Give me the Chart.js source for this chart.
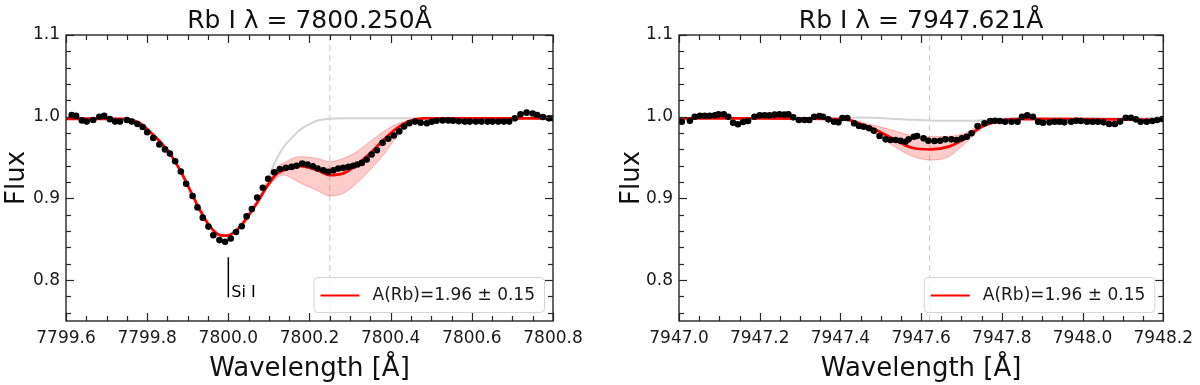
<!DOCTYPE html>
<html>
<head>
<meta charset="utf-8">
<script src="https://cdn.jsdelivr.net/npm/chart.js@4.4.1/dist/chart.umd.min.js"></script>
<style>
  html, body { margin: 0; padding: 0; background: #fff; }
  #wrap { position: relative; width: 1200px; height: 385px; }
  .panel { position: absolute; top: 0; width: 600px; height: 385px; }
</style>
</head>
<body>
<div id="wrap">
  <div class="panel" style="left:0"><canvas id="c1" width="600" height="385"></canvas></div>
  <div class="panel" style="left:600px"><canvas id="c2" width="600" height="385"></canvas></div>
</div>
<script>
// ---------------- DATA ----------------
const yTicks = [0.8, 0.9, 1.0, 1.1];
const yRange = [0.75, 1.1];

// Left panel: Rb I 7800.250
const leftTitle = "Rb I λ = 7800.250Å";
const leftLine = 7800.250;
const leftXTicks = [7799.6, 7799.8, 7800.0, 7800.2, 7800.4, 7800.6, 7800.8];
const leftObsWave = [7799.614,7799.625,7799.639,7799.651,7799.667,7799.682,7799.694,7799.708,7799.721,7799.733,
  7799.750,7799.762,7799.776,7799.789,7799.800,7799.815,7799.830,7799.844,7799.856,7799.869,
  7799.883,7799.896,7799.912,7799.924,7799.937,7799.951,7799.963,7799.978,7799.992,7800.006,
  7800.019,7800.033,7800.045,7800.058,7800.071,7800.085,7800.098,7800.113,7800.127,7800.142,
  7800.156,7800.168,7800.182,7800.195,7800.208,7800.220,7800.234,7800.246,7800.259,7800.271,
  7800.283,7800.296,7800.308,7800.318,7800.329,7800.341,7800.353,7800.366,7800.380,7800.394,
  7800.408,7800.421,7800.433,7800.446,7800.460,7800.474,7800.489,7800.501,7800.513,7800.528,
  7800.542,7800.554,7800.568,7800.583,7800.595,7800.610,7800.624,7800.639,7800.651,7800.665,
  7800.679,7800.692,7800.706,7800.720,7800.735,7800.750,7800.761,7800.775,7800.790,7800.800];
const leftObsFlux = [1.002,1.001,0.9955,0.994,0.996,1.000,1.001,0.997,0.994,0.994,
  0.996,0.994,0.991,0.9875,0.981,0.974,0.966,0.960,0.955,0.9455,
  0.933,0.918,0.903,0.889,0.8765,0.8655,0.855,0.849,0.847,0.851,
  0.859,0.866,0.878,0.887,0.901,0.913,0.924,0.932,0.936,0.9374,
  0.9386,0.940,0.9427,0.9415,0.9394,0.9366,0.9345,0.9326,0.9345,0.9366,
  0.9374,0.9386,0.940,0.9415,0.9435,0.9476,0.9537,0.959,0.968,0.973,
  0.977,0.982,0.988,0.992,0.994,0.9927,0.992,0.9939,0.995,0.9955,
  0.9955,0.995,0.9945,0.994,0.994,0.994,0.994,0.994,0.994,0.994,
  0.994,0.994,0.998,1.003,1.005,1.004,1.002,0.9996,0.998,0.998];
const leftFitWave = [7799.600,7799.700,7799.750,7799.765,7799.782,7799.807,7799.832,7799.856,7799.881,7799.906,
  7799.930,7799.955,7799.979,7799.996,7800.021,7800.045,7800.070,7800.095,7800.119,7800.152,
  7800.177,7800.218,7800.250,7800.283,7800.316,7800.349,7800.382,7800.415,7800.448,7800.480,
  7800.600,7800.700,7800.800];
const leftFitFlux = [0.9975,0.9975,0.997,0.9955,0.992,0.9817,0.9694,0.955,0.9348,0.910,
  0.8858,0.8654,0.855,0.8544,0.8613,0.8756,0.894,0.9143,0.930,0.937,
  0.9395,0.9348,0.9286,0.9307,0.941,0.955,0.9715,0.9858,0.995,0.998,
  0.998,0.998,0.998];
const leftBandWave  = [7800.070,7800.095,7800.119,7800.135,7800.177,7800.218,7800.250,7800.283,7800.316,7800.349,7800.382,7800.415,7800.448,7800.480];
const leftBandUpper = [0.894,0.917,0.937,0.943,0.951,0.949,0.945,0.949,0.957,0.9694,0.9817,0.991,0.996,0.998];
const leftBandLower = [0.894,0.912,0.925,0.9286,0.919,0.910,0.903,0.9063,0.9185,0.9348,0.953,0.9755,0.990,0.998];
const leftNoRbWave = [7799.600,7799.700,7799.750,7799.765,7799.782,7799.807,7799.832,7799.856,7799.881,7799.906,
  7799.930,7799.955,7799.979,7799.996,7800.021,7800.045,7800.070,7800.095,7800.111,7800.135,
  7800.160,7800.177,7800.201,7800.218,7800.250,7800.300,7800.800];
const leftNoRbFlux = [0.9975,0.9975,0.997,0.9955,0.992,0.9817,0.9694,0.955,0.9348,0.910,
  0.8858,0.8654,0.855,0.8544,0.8613,0.8756,0.894,0.920,0.940,0.962,
  0.976,0.984,0.991,0.995,0.9975,0.998,0.998];
const leftMarkWave = 7800.0;
const leftMarkFlux = [0.828, 0.779];
const leftMarkText = "Si I";

// Right panel: Rb I 7947.621
const rightTitle = "Rb I λ = 7947.621Å";
const rightLine = 7947.621;
const rightXTicks = [7947.0, 7947.2, 7947.4, 7947.6, 7947.8, 7948.0, 7948.2];
const rightObsWave = [7947.007,7947.027,7947.039,7947.052,7947.064,7947.076,7947.089,7947.098,7947.111,7947.122,
  7947.134,7947.146,7947.159,7947.171,7947.187,7947.200,7947.212,7947.224,7947.237,7947.249,
  7947.261,7947.271,7947.283,7947.297,7947.311,7947.323,7947.335,7947.348,7947.357,7947.370,
  7947.384,7947.395,7947.405,7947.417,7947.434,7947.446,7947.458,7947.471,7947.483,7947.497,
  7947.512,7947.524,7947.537,7947.549,7947.561,7947.569,7947.582,7947.590,
  7947.606,7947.618,7947.633,7947.647,7947.660,7947.675,7947.688,7947.701,7947.713,7947.725,
  7947.740,7947.757,7947.771,7947.783,7947.795,7947.808,7947.824,7947.839,7947.850,7947.863,
  7947.877,7947.890,7947.902,7947.918,7947.931,7947.943,7947.955,7947.972,7947.984,7947.996,
  7948.011,7948.025,7948.038,7948.052,7948.066,7948.080,7948.093,7948.107,7948.120,7948.132,
  7948.144,7948.159,7948.173,7948.185,7948.198];
const rightObsFlux = [0.9939,0.9951,1.000,1.0012,1.0012,1.0012,1.0017,1.0029,1.0029,1.000,
  0.9927,0.9907,0.9935,0.9947,1.000,1.0017,1.0017,1.0017,1.0025,1.0029,
  1.0025,1.0029,0.9992,0.996,0.996,0.996,1.000,1.0009,1.000,0.9968,
  0.9939,0.9931,0.9984,0.9984,0.9919,0.9886,0.9878,0.9858,0.9829,0.9764,
  0.9723,0.9715,0.9715,0.9706,0.9694,0.9723,0.9755,0.9764,
  0.9735,0.9706,0.9702,0.9706,0.9723,0.9723,0.9715,0.9735,0.9755,0.9797,
  0.9886,0.9919,0.9947,0.9951,0.9947,0.9939,0.9939,0.9939,1.000,1.0017,
  1.000,0.9939,0.9927,0.9931,0.9939,0.9939,0.9931,0.9939,0.9951,0.9947,
  0.9939,0.9939,0.9939,0.9931,0.9911,0.9911,0.994,0.9988,0.9988,0.9968,
  0.9939,0.9939,0.9947,0.996,0.9972];
const rightFitWave = [7947.000,7947.200,7947.400,7947.430,7947.455,7947.479,7947.528,7947.577,7947.624,7947.668,
  7947.709,7947.750,7947.791,7947.849,7948.000,7948.200];
const rightFitFlux = [0.998,0.998,0.997,0.995,0.990,0.9858,0.9735,0.962,0.960,0.9633,
  0.9735,0.9878,0.9947,0.9972,0.997,0.996];
const rightBandWave  = [7947.430,7947.479,7947.528,7947.577,7947.624,7947.668,7947.709,7947.750,7947.791,7947.830];
const rightBandUpper = [0.996,0.990,0.9837,0.977,0.9755,0.976,0.9797,0.991,0.996,0.997];
const rightBandLower = [0.994,0.982,0.9654,0.952,0.947,0.951,0.9674,0.9858,0.993,0.997];
const rightNoRbWave = [7947.000,7947.400,7947.450,7947.550,7947.650,7947.720,7947.780,7947.820,7948.200];
const rightNoRbFlux = [0.9985,0.9985,0.999,0.997,0.995,0.995,0.997,0.998,0.998];

// ---------------- STYLE ----------------
const FONT = "'DejaVu Sans', 'Liberation Sans', sans-serif";
const RED = '#ff0000';

function pts(xs, ys) {
  const n = Math.min(xs.length, ys.length);
  const out = [];
  for (let i = 0; i < n; i++) out.push({x: xs[i], y: ys[i]});
  return out;
}

function minorValues(majors, step) {
  const out = [];
  for (let i = 0; i < majors.length - 1; i++) {
    for (let k = 1; k * step < (majors[i+1] - majors[i]) - 1e-9; k++) out.push(majors[i] + k * step);
  }
  return out;
}

function makeChart(canvasId, cfg) {
  const framePlugin = {
    id: 'frame_' + canvasId,
    beforeDatasetsDraw(chart) {
      const ctx = chart.ctx, a = chart.chartArea, xs = chart.scales.x;
      const px = xs.getPixelForValue(cfg.line);
      ctx.save();
      ctx.strokeStyle = '#c8c8c8';
      ctx.lineWidth = 1;
      ctx.setLineDash([6, 4]);
      ctx.beginPath(); ctx.moveTo(px, a.top); ctx.lineTo(px, a.bottom); ctx.stroke();
      ctx.restore();
    },
    afterDatasetsDraw(chart) {
      const ctx = chart.ctx, a = chart.chartArea, xs = chart.scales.x, ys = chart.scales.y;
      ctx.save();
      ctx.strokeStyle = '#262626';
      ctx.lineWidth = 1.2;
      const drawX = (vals, len) => {
        vals.forEach(v => {
          const p = Math.round(xs.getPixelForValue(v)) + 0.5;
          ctx.beginPath(); ctx.moveTo(p, a.bottom); ctx.lineTo(p, a.bottom - len); ctx.stroke();
          ctx.beginPath(); ctx.moveTo(p, a.top); ctx.lineTo(p, a.top + len); ctx.stroke();
        });
      };
      const drawY = (vals, len) => {
        vals.forEach(v => {
          const p = Math.round(ys.getPixelForValue(v)) + 0.5;
          ctx.beginPath(); ctx.moveTo(a.left, p); ctx.lineTo(a.left + len, p); ctx.stroke();
          ctx.beginPath(); ctx.moveTo(a.right, p); ctx.lineTo(a.right - len, p); ctx.stroke();
        });
      };
      drawX(cfg.xTicks, 8);
      drawX(minorValues(cfg.xTicks, 0.05), 5);
      drawY(yTicks, 8);
      const yMinor = [];
      for (let v = 0.76; v < 1.1 - 1e-9; v += 0.02) {
        if (!yTicks.some(t => Math.abs(t - v) < 1e-6)) yMinor.push(v);
      }
      drawY(yMinor, 5);
      ctx.lineWidth = 1.4;
      ctx.strokeRect(a.left, a.top, a.right - a.left, a.bottom - a.top);

      if (cfg.mark) {
        const mx = xs.getPixelForValue(cfg.mark.wave);
        const y1 = ys.getPixelForValue(cfg.mark.flux[0]);
        const y2 = ys.getPixelForValue(cfg.mark.flux[1]);
        ctx.strokeStyle = '#000';
        ctx.lineWidth = 1.5;
        ctx.beginPath(); ctx.moveTo(mx, y1); ctx.lineTo(mx, y2); ctx.stroke();
        ctx.fillStyle = '#000';
        ctx.font = '16px ' + FONT;
        ctx.textAlign = 'left';
        ctx.textBaseline = 'alphabetic';
        ctx.fillText(cfg.mark.text, mx + 3, y2);
      }

      const label = 'A(Rb)=1.96 ± 0.15';
      ctx.font = '17px ' + FONT;
      const tw = ctx.measureText(label).width;
      const bw = 59 + tw + 9, bh = 35;
      const bx = a.right - 9 - bw, by = a.bottom - 9 - bh;
      ctx.fillStyle = 'rgba(255,255,255,0.8)';
      ctx.strokeStyle = '#d6d6d6';
      ctx.lineWidth = 1;
      ctx.beginPath();
      if (ctx.roundRect) ctx.roundRect(bx + 0.5, by + 0.5, bw, bh, 4); else ctx.rect(bx + 0.5, by + 0.5, bw, bh);
      ctx.fill(); ctx.stroke();
      ctx.strokeStyle = RED;
      ctx.lineWidth = 2;
      ctx.beginPath(); ctx.moveTo(bx + 7, by + bh / 2 + 1); ctx.lineTo(bx + 46, by + bh / 2 + 1); ctx.stroke();
      ctx.fillStyle = '#1a1a1a';
      ctx.textAlign = 'left';
      ctx.textBaseline = 'middle';
      ctx.fillText(label, bx + 59, by + bh / 2 + 1);

      const cx = (a.left + a.right) / 2;
      ctx.fillStyle = '#111';
      ctx.font = '25px ' + FONT;
      ctx.textAlign = 'center';
      ctx.textBaseline = 'alphabetic';
      ctx.fillText(cfg.title, cx, 28);
      ctx.font = '26px ' + FONT;
      ctx.fillText('Wavelength [Å]', cx, 376);
      ctx.save();
      ctx.translate(cfg.yTitleX, (a.top + a.bottom) / 2);
      ctx.rotate(-Math.PI / 2);
      ctx.textBaseline = 'middle';
      ctx.fillText('Flux', 0, 0);
      ctx.restore();
      ctx.restore();
    }
  };

  return new Chart(document.getElementById(canvasId), {
    type: 'scatter',
    data: {
      datasets: [
        { label: 'obs', data: pts(cfg.obsW, cfg.obsF), showLine: false, pointRadius: 3.3, pointHoverRadius: 3.3,
          pointBackgroundColor: '#000', pointBorderColor: '#000', pointBorderWidth: 0, order: 0 },
        { label: 'fit', data: pts(cfg.fitW, cfg.fitF), showLine: true, pointRadius: 0, borderColor: RED,
          borderWidth: 2.8, cubicInterpolationMode: 'monotone', fill: false, order: 1 },
        { label: 'upper', data: pts(cfg.bandW, cfg.bandU), showLine: true, pointRadius: 0,
          borderColor: 'rgba(255,0,0,0.28)', borderWidth: 1, cubicInterpolationMode: 'monotone',
          fill: '+1', backgroundColor: 'rgba(255,0,0,0.2)', order: 2 },
        { label: 'lower', data: pts(cfg.bandW, cfg.bandL), showLine: true, pointRadius: 0,
          borderColor: 'rgba(255,0,0,0.28)', borderWidth: 1, cubicInterpolationMode: 'monotone', fill: false, order: 3 },
        { label: 'noRb', data: pts(cfg.noW, cfg.noF), showLine: true, pointRadius: 0, borderColor: '#d3d3d3',
          borderWidth: 2, cubicInterpolationMode: 'monotone', fill: false, order: 4 }
      ]
    },
    options: {
      responsive: false,
      animation: false,
      devicePixelRatio: 1,
      layout: { padding: { top: 35, right: cfg.padRight, left: 0, bottom: 0 } },
      plugins: { legend: { display: false }, tooltip: { enabled: false }, title: { display: false } },
      scales: {
        x: {
          type: 'linear', min: cfg.xTicks[0], max: cfg.xTicks[cfg.xTicks.length - 1],
          grid: { display: false, drawTicks: false }, border: { display: false },
          afterBuildTicks: s => { s.ticks = cfg.xTicks.map(v => ({ value: v })); },
          afterFit: s => { s.height = 64; },
          ticks: { padding: 7, color: '#1a1a1a', font: { family: FONT, size: 17 }, maxRotation: 0, autoSkip: false,
                   callback: v => Number(v).toFixed(1) }
        },
        y: {
          type: 'linear', min: yRange[0], max: yRange[1],
          grid: { display: false, drawTicks: false }, border: { display: false },
          afterBuildTicks: s => { s.ticks = yTicks.map(v => ({ value: v })); },
          afterFit: s => { s.width = cfg.yWidth; },
          ticks: { padding: 6, color: '#1a1a1a', font: { family: FONT, size: 17 }, autoSkip: false,
                   callback: v => Number(v).toFixed(1) }
        }
      }
    },
    plugins: [framePlugin]
  });
}

makeChart('c1', {
  title: leftTitle, line: leftLine, xTicks: leftXTicks,
  obsW: leftObsWave, obsF: leftObsFlux, fitW: leftFitWave, fitF: leftFitFlux,
  bandW: leftBandWave, bandU: leftBandUpper, bandL: leftBandLower,
  noW: leftNoRbWave, noF: leftNoRbFlux,
  mark: { wave: leftMarkWave, flux: leftMarkFlux, text: leftMarkText },
  padRight: 47, yWidth: 66, yTitleX: 17
});
makeChart('c2', {
  title: rightTitle, line: rightLine, xTicks: rightXTicks,
  obsW: rightObsWave, obsF: rightObsFlux, fitW: rightFitWave, fitF: rightFitFlux,
  bandW: rightBandWave, bandU: rightBandUpper, bandL: rightBandLower,
  noW: rightNoRbWave, noF: rightNoRbFlux,
  mark: null,
  padRight: 34, yWidth: 79, yTitleX: 32
});
</script>
</body>
</html>
